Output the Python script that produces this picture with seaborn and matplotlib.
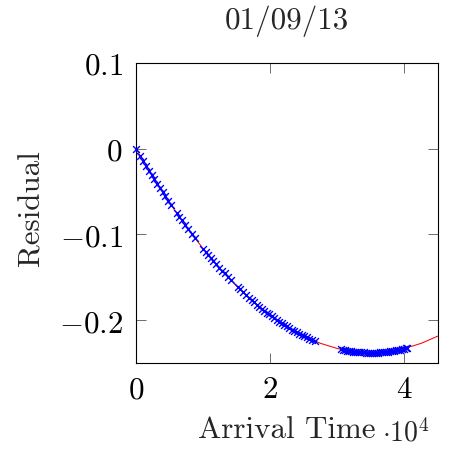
import numpy as np
import pandas as pd
import matplotlib
matplotlib.use("Agg")
import matplotlib.pyplot as plt
import seaborn as sns
from matplotlib.ticker import FuncFormatter, FixedLocator

title = "01/09/13"
x_label = "Arrival Time"
y_label = "Residual"

# Fitted curve samples (x in thousands of seconds)
fit_x_k = [0, 2.5, 5, 7.5, 10, 12.5, 15, 17.5, 20, 22.5, 25, 27.5, 30,
           32.5, 35, 37.5, 40, 42.5, 45]
fit_y = [0, -0.03279, -0.06314, -0.09107, -0.11657, -0.13964, -0.16028,
         -0.1785, -0.19428, -0.20764, -0.21856, -0.22706, -0.23313,
         -0.23677, -0.23798, -0.23677, -0.23312, -0.22704, -0.21854]

# Measured residuals (x in thousands of seconds)
obs_x_k = [0, 0.59, 1.09, 1.49, 1.93, 2.33, 2.72, 3.17, 3.57, 3.97, 4.36, 4.80,
           5.25, 6.05, 6.44, 6.80, 7.29, 7.69, 8.28, 8.77, 10.01, 10.41, 10.75,
           11.11, 11.49, 11.90, 12.39, 12.79, 13.19, 13.72, 14.17, 15.21, 15.46,
           15.91, 16.36, 16.80, 17.25, 17.62, 17.99, 18.36, 18.74, 19.11, 19.48,
           19.85, 20.22, 20.59, 20.97, 21.34, 21.71, 22.08, 22.45, 22.83, 23.20,
           23.57, 23.94, 24.31, 24.68, 25.06, 25.43, 25.80, 26.17, 26.62,
           30.6, 30.9, 31.2, 31.5, 31.8, 32.1, 32.4, 32.7, 33.0, 33.3, 33.6,
           33.9, 34.2, 34.5, 34.8, 35.1, 35.4, 35.7, 36.0, 36.3, 36.6, 36.9,
           37.2, 37.5, 37.8, 38.1, 38.4, 38.7, 39.0, 39.3, 39.6, 39.9, 40.2, 40.4]
obs_y = [0, -0.00796, -0.01459, -0.01983, -0.02552, -0.03063, -0.03555, -0.04116,
         -0.04608, -0.05093, -0.05560, -0.06080, -0.06605, -0.07517, -0.07953,
         -0.08350, -0.08882, -0.09309, -0.09929, -0.10433, -0.11667, -0.12052,
         -0.12375, -0.12711, -0.13061, -0.13432, -0.13868, -0.14216, -0.14558,
         -0.15002, -0.15370, -0.16191, -0.16382, -0.16719, -0.17049, -0.17364,
         -0.17678, -0.17931, -0.18178, -0.18420, -0.18663, -0.18894, -0.19120,
         -0.19340, -0.19555, -0.19765, -0.19975, -0.20174, -0.20368, -0.20556,
         -0.20739, -0.20922, -0.21094, -0.21261, -0.21423, -0.21579, -0.21730,
         -0.21879, -0.22020, -0.22155, -0.22284, -0.22434,
         -0.23422, -0.23471, -0.23517, -0.2356, -0.23599, -0.23635, -0.23667,
         -0.23695, -0.2372, -0.23742, -0.2376, -0.23774, -0.23786, -0.23793,
         -0.23797, -0.23798, -0.23795, -0.23788, -0.23779, -0.23765, -0.23748,
         -0.23728, -0.23704, -0.23677, -0.23646, -0.23611, -0.23573, -0.23532,
         -0.23487, -0.23439, -0.23387, -0.23332, -0.23273, -0.23231]

x_ticks = [0, 20000, 40000]
y_ticks = [-0.2, -0.1, 0, 0.1]

sns.set_style("ticks")
plt.rcParams["font.family"] = "serif"
plt.rcParams["font.serif"] = ["cmr10", "DejaVu Serif"]
plt.rcParams["mathtext.fontset"] = "cm"
plt.rcParams["axes.formatter.use_mathtext"] = True

FS = 22.3

fit_df = pd.DataFrame({"x": np.array(fit_x_k) * 1000, "y": fit_y})
obs_df = pd.DataFrame({"x": np.array(obs_x_k) * 1000, "y": obs_y})

fig = plt.figure(figsize=(4.5, 4.52), dpi=100)
ax = fig.add_axes([136 / 450, 1 - 364 / 452, 302 / 450, 300 / 452])

sns.lineplot(data=fit_df, x="x", y="y", color="red", linewidth=0.75, ax=ax,
             sort=False, zorder=2)
sns.scatterplot(data=obs_df, x="x", y="y", color="blue", marker="x", s=24,
                linewidth=1.0, ax=ax, zorder=3, clip_on=False)

ax.set_xlim(0, 45000)
ax.set_ylim(-0.25, 0.1)
ax.xaxis.set_major_locator(FixedLocator(x_ticks))
ax.yaxis.set_major_locator(FixedLocator(y_ticks))
ax.xaxis.set_major_formatter(FuncFormatter(lambda v, p: r"$%g$" % (v / 1e4)))
ax.yaxis.set_major_formatter(FuncFormatter(lambda v, p: r"$%g$" % round(v, 3)))

ax.tick_params(direction="in", top=True, right=True, length=7, width=0.6,
               labelsize=FS, colors="#555555", labelcolor="black")
ax.tick_params(axis="x", pad=9)
ax.tick_params(axis="y", pad=9.5)
for s in ax.spines.values():
    s.set_visible(True)
    s.set_linewidth(0.8)
    s.set_color("black")

ax.set_title(title, fontsize=FS, pad=25)
ax.set_xlabel(x_label, fontsize=FS, va="baseline")
ax.xaxis.set_label_coords(0.5, (364 - 438.3) / 300)
ax.set_ylabel(y_label, fontsize=FS, va="baseline")
ax.yaxis.set_label_coords((39 - 136) / 302, 0.519)
ax.text((382 - 136) / 302, (364 - 441.7) / 300, r"$\cdot10^{4}$",
        transform=ax.transAxes, fontsize=20, ha="left", va="baseline")

fig.savefig("out.png", dpi=100)
